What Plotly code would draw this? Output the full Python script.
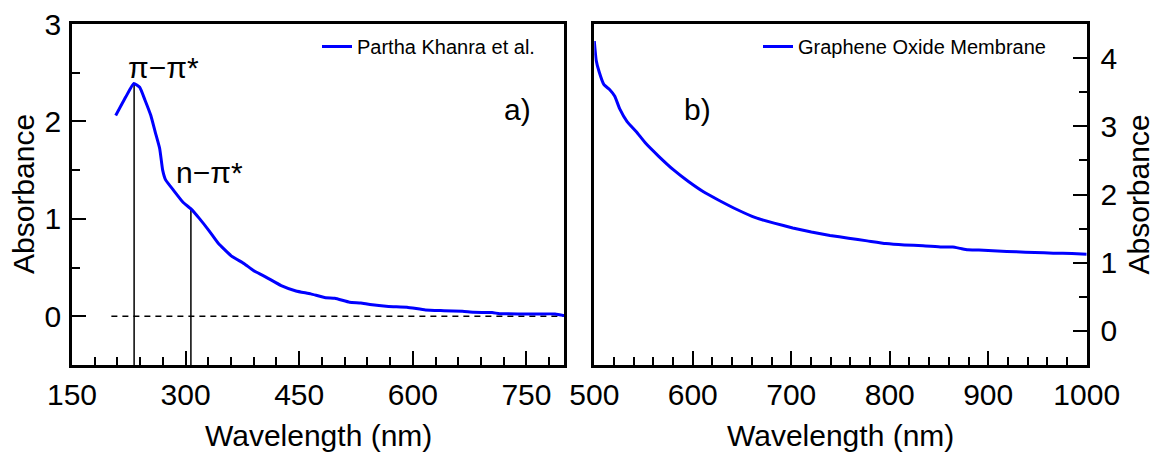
import plotly.graph_objects as go

# Panel a) UV-Vis absorbance of graphene oxide (Partha Khanra et al.)
wl_a = [207.7, 220.9, 231.6, 239.4, 246.3, 254.1, 259.9, 265.8, 269.7, 273.6,
        284.4, 296.6, 307.4, 318.6, 330.8, 343.1, 360.2, 377.3, 389.5, 406.6,
        426.2, 445.7, 465.3, 484.8, 497.0, 516.5, 531.2, 543.4, 567.9, 592.3,
        616.7, 641.2, 665.6, 680.3, 704.7, 714.5, 738.9, 763.4, 787.8, 800.0]
abs_a = [2.06, 2.25, 2.39, 2.35, 2.22, 2.06, 1.89, 1.72, 1.50, 1.40,
         1.29, 1.17, 1.10, 1.00, 0.88, 0.75, 0.62, 0.54, 0.47, 0.40,
         0.315, 0.26, 0.23, 0.19, 0.185, 0.145, 0.137, 0.12, 0.10, 0.093,
         0.065, 0.058, 0.051, 0.041, 0.038, 0.027, 0.024, 0.024, 0.024, 0.007]

# Band positions marked with drop lines
band_nm = [232, 307]
band_abs = [2.39, 1.10]
band_labels = ["π−π*", "n−π*"]

# Zero reference (dashed)
zero_x = [202, 800]
zero_y = [0, 0]

# Panel b) graphene oxide membrane
wl_b = [500.0, 501.9, 504.9, 509.8, 515.5, 520.8, 525.7, 533.3, 542.7, 552.2,
        565.4, 580.5, 595.6, 610.8, 625.9, 644.8, 663.7, 682.6, 701.5, 720.4,
        739.3, 758.2, 777.1, 796.0, 814.9, 833.8, 852.7, 864.0, 871.6, 879.1,
        890.5, 909.4, 928.3, 947.2, 966.1, 985.0, 1000.0]
abs_b = [4.25, 3.97, 3.80, 3.61, 3.54, 3.44, 3.26, 3.07, 2.92, 2.75,
         2.56, 2.36, 2.19, 2.04, 1.92, 1.78, 1.66, 1.58, 1.51, 1.45,
         1.40, 1.36, 1.32, 1.28, 1.26, 1.25, 1.23, 1.23, 1.21, 1.19,
         1.185, 1.17, 1.16, 1.15, 1.14, 1.135, 1.125]

xticks_a = [150, 300, 450, 600, 750]
xticks_b = [500, 600, 700, 800, 900, 1000]
yticks_a = [0, 1, 2, 3]
yticks_b = [0, 1, 2, 3, 4]

FONT = "Arial, Liberation Sans, sans-serif"
BLUE = "#0000ff"
W, H = 1153, 454

fig = go.Figure()

fig.add_trace(go.Scatter(x=zero_x, y=zero_y, mode="lines",
                         line=dict(color="black", width=1.5, dash="6px,5px"),
                         showlegend=False, hoverinfo="skip", xaxis="x", yaxis="y"))
for nm, a in zip(band_nm, band_abs):
    fig.add_trace(go.Scatter(x=[nm, nm], y=[-0.5, a], mode="lines",
                             line=dict(color="black", width=1.5),
                             showlegend=False, hoverinfo="skip", xaxis="x", yaxis="y"))

fig.add_trace(go.Scatter(x=wl_a, y=abs_a, mode="lines", name="Partha Khanra et al.",
                         line=dict(color=BLUE, width=3, shape="spline", smoothing=0.4),
                         xaxis="x", yaxis="y", legend="legend"))
fig.add_trace(go.Scatter(x=wl_b, y=abs_b, mode="lines", name="Graphene Oxide Membrane",
                         line=dict(color=BLUE, width=3, shape="spline", smoothing=0.4),
                         xaxis="x2", yaxis="y2", legend="legend2"))

tickfont = dict(family=FONT, size=30, color="black")
common = dict(showline=True, linecolor="black", linewidth=2.5, mirror=True,
              ticks="inside", ticklen=14, tickwidth=2, tickcolor="black",
              showgrid=False, zeroline=False, tickfont=tickfont, automargin=False)

y0 = 1 - 365 / H
y1 = 1 - 24 / H

fig.update_layout(
    width=W, height=H,
    margin=dict(l=0, r=0, t=0, b=0, pad=0, autoexpand=False),
    paper_bgcolor="white", plot_bgcolor="white",
    xaxis=dict(domain=[72 / W, 564.3 / W], range=[150, 800], tickvals=xticks_a,
               minor=dict(dtick=30, tick0=150, ticks="inside", ticklen=8, tickwidth=2,
                          tickcolor="black"),
               anchor="y", ticklabelstandoff=1, **common),
    yaxis=dict(domain=[y0, y1], range=[-0.5, 3], tickvals=yticks_a,
               minor=dict(dtick=0.5, tick0=0, ticks="inside", ticklen=8, tickwidth=2,
                          tickcolor="black"),
               anchor="x", ticklabelstandoff=2, **common),
    xaxis2=dict(domain=[594.3 / W, 1086.7 / W], range=[500, 1000], tickvals=xticks_b,
                minor=dict(dtick=20, tick0=500, ticks="inside", ticklen=8, tickwidth=2,
                           tickcolor="black"),
                anchor="y2", ticklabelstandoff=1, **common),
    yaxis2=dict(domain=[y0, y1], range=[-0.5, 4.5], tickvals=yticks_b, side="right",
                minor=dict(dtick=0.5, tick0=0, ticks="inside", ticklen=8, tickwidth=2,
                           tickcolor="black"),
                anchor="x2", ticklabelstandoff=5, **common),
    legend=dict(x=317 / W, y=1 - 27 / H, xanchor="left", yanchor="top",
                bgcolor="rgba(0,0,0,0)", font=dict(family=FONT, size=20, color="black")),
    legend2=dict(x=758 / W, y=1 - 27 / H, xanchor="left", yanchor="top",
                 bgcolor="rgba(0,0,0,0)", font=dict(family=FONT, size=20, color="black")),
)

ann_font = dict(family=FONT, size=30, color="black")
title_font = dict(family=FONT, size=30, color="black")
annotations = [
    dict(x=271, y=2.55, xref="x", yref="y", text=band_labels[0], showarrow=False,
         font=ann_font),
    dict(x=331, y=1.48, xref="x", yref="y", text=band_labels[1], showarrow=False,
         font=ann_font),
    dict(x=738, y=2.12, xref="x", yref="y", text="a)", showarrow=False, font=ann_font),
    dict(x=605, y=3.24, xref="x2", yref="y2", text="b)", showarrow=False, font=ann_font),
    # axis titles
    dict(x=318 / W, y=1 - 435 / H, xref="paper", yref="paper", text="Wavelength (nm)",
         xanchor="center", yanchor="middle", showarrow=False, font=title_font),
    dict(x=840.5 / W, y=1 - 435 / H, xref="paper", yref="paper", text="Wavelength (nm)",
         xanchor="center", yanchor="middle", showarrow=False, font=title_font),
    dict(x=23.5 / W, y=1 - 194.5 / H, xref="paper", yref="paper", text="Absorbance",
         xanchor="center", yanchor="middle", textangle=-90, showarrow=False,
         font=title_font),
    dict(x=1138 / W, y=1 - 194.5 / H, xref="paper", yref="paper", text="Absorbance",
         xanchor="center", yanchor="middle", textangle=-90, showarrow=False,
         font=title_font),
]
fig.update_layout(annotations=annotations)

fig.write_html("out.html")
